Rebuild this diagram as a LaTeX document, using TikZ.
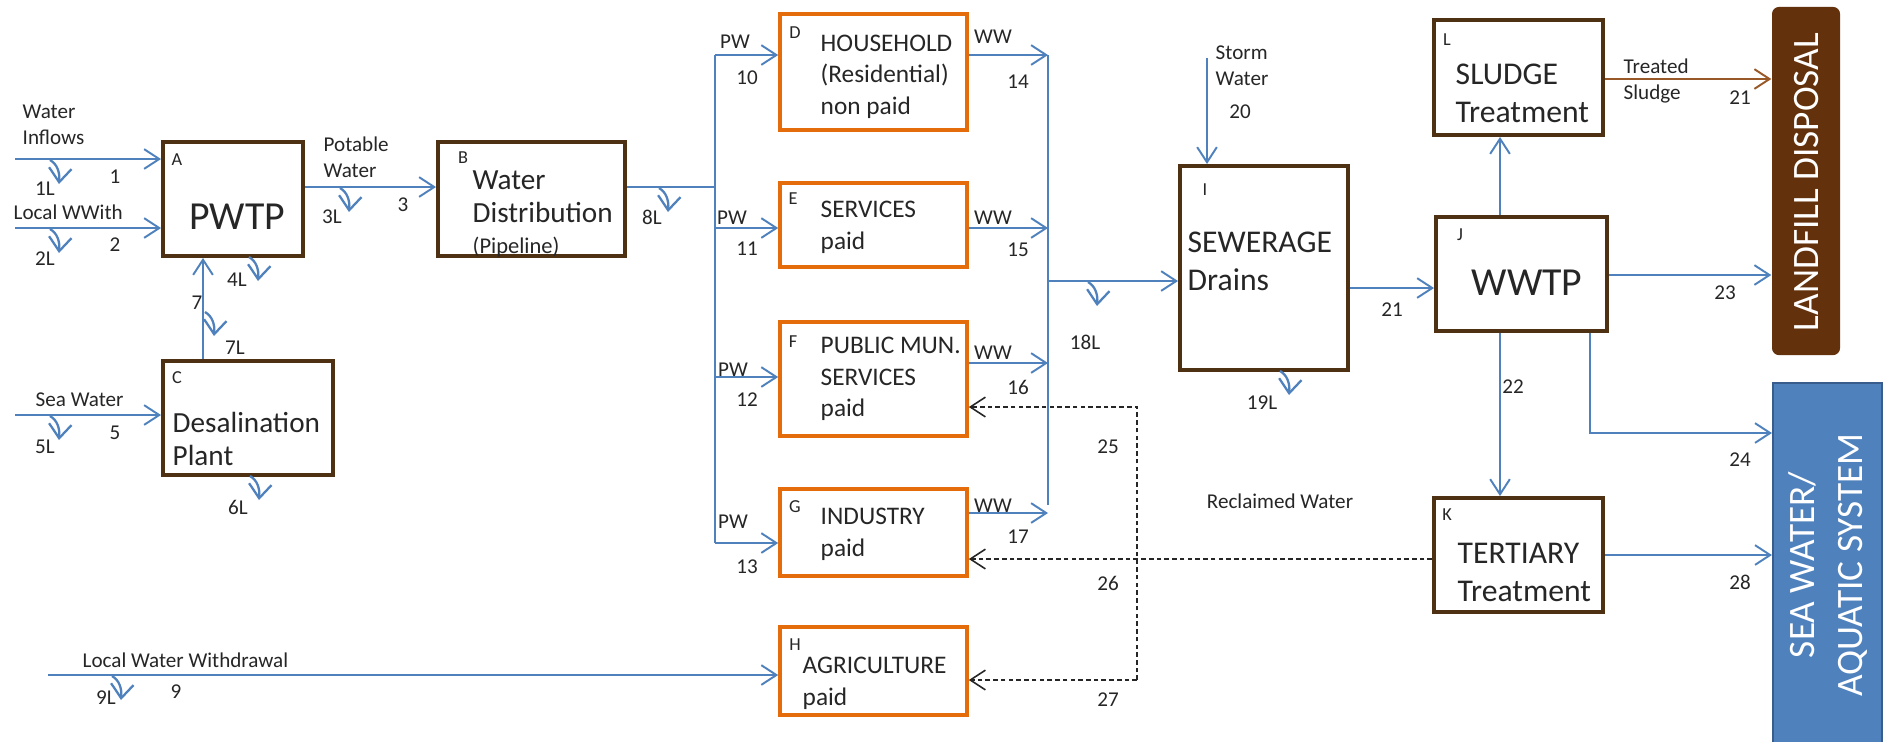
\documentclass[tikz,border=0pt]{standalone}
\usepackage{fontspec}
\setmainfont{Carlito}
\usepackage{xcolor}
\usepackage{tikz}
\usetikzlibrary{arrows.meta}

\definecolor{flowblue}{RGB}{79,129,189}
\definecolor{plantbrown}{RGB}{78,48,18}
\definecolor{userorange}{RGB}{228,108,10}
\definecolor{landfillbrown}{RGB}{99,50,12}
\definecolor{seaedge}{RGB}{56,93,140}
\definecolor{sludgebrown}{RGB}{152,88,40}
\definecolor{inkgray}{RGB}{38,38,38}

\tikzset{
    leak/.pic={\draw[leakline] (0,0) .. controls (7,4) and (10,12) .. (9,24);}
}

\begin{document}
\begin{tikzpicture}[x=0.01cm, y=-0.01cm, text=inkgray,
    plant/.style={draw=plantbrown, line width=1.1pt, fill=white, inner sep=0pt},
    user/.style={draw=userorange, line width=1pt, fill=white, inner sep=0pt},
    flow/.style={draw=flowblue, line width=0.55pt, -{Straight Barb[length=4.3pt,width=5.6pt]}},
    pipe/.style={draw=flowblue, line width=0.55pt},
    leakline/.style={draw=flowblue, line width=0.65pt, -{Straight Barb[length=4pt,width=6.4pt]}},
    reuse/.style={draw=black!85, line width=0.45pt, dash pattern=on 1.3pt off 0.9pt, -{Straight Barb[length=4.3pt,width=5.6pt]}},
    lbl/.style={font=\fontsize{6}{7.4}\selectfont, inner sep=0pt, align=left},
    tag/.style={font=\fontsize{5.2}{5.8}\selectfont, inner sep=0pt},
    usertext/.style={font=\fontsize{7.2}{9}\selectfont, inner sep=0pt, align=left, anchor=west},
    planttext/.style={font=\fontsize{8.3}{9.4}\selectfont, inner sep=0pt, align=left, anchor=west},
    wwtext/.style={font=\fontsize{9}{10.8}\selectfont, inner sep=0pt, align=left, anchor=west},
    bigtext/.style={font=\fontsize{11.3}{13}\selectfont, inner sep=0pt},
    sinktext/.style={font=\fontsize{10.6}{13.4}\selectfont, text=white, inner sep=0pt, align=center, rotate=90}]

    \useasboundingbox (0,0) rectangle (1885,741);

    % Treatment plants
    \node[plant, minimum width=14mm, minimum height=11.4mm] (A) at (233,199) {};
    \node[plant, minimum width=18.7mm, minimum height=11.4mm] (B) at (531.5,199) {};
    \node[plant, minimum width=17mm, minimum height=11.4mm] (C) at (248,418) {};

    % Water users
    \node[user, minimum width=18.7mm, minimum height=11.6mm] (D) at (873.5,72) {};
    \node[user, minimum width=18.7mm, minimum height=8.4mm] (E) at (873.5,225) {};
    \node[user, minimum width=18.7mm, minimum height=11.4mm] (F) at (873.5,379) {};
    \node[user, minimum width=18.7mm, minimum height=8.7mm] (G) at (873.5,532.5) {};
    \node[user, minimum width=18.7mm, minimum height=8.8mm] (H) at (873.5,671) {};

    % Wastewater side
    \node[plant, minimum width=16.8mm, minimum height=20.4mm] (I) at (1264,268) {};
    \node[plant, minimum width=16.9mm, minimum height=11.5mm] (L) at (1518.5,77.5) {};
    \node[plant, minimum width=17.1mm, minimum height=11.4mm] (J) at (1521.5,274) {};
    \node[plant, minimum width=16.9mm, minimum height=11.4mm] (K) at (1518.5,555) {};

    % Final sinks
    \node[fill=landfillbrown, rounded corners=2pt, minimum width=6.8mm, minimum height=34.8mm] (landfill) at (1806,181) {};
    \node[fill=flowblue, draw=seaedge, line width=0.6pt, minimum width=10.9mm, minimum height=36.7mm] (sea) at (1827.5,566.5) {};

    % Box texts
    \node[tag] (tagA) at (177,160) {A};
    \node[bigtext] (nameA) at (237,217) {PWTP};
    \node[tag] (tagB) at (463,158) {B};
    \node[planttext] (nameB) at (472,196.5) {Water\\Distribution};
    \node[lbl, anchor=west, font=\fontsize{6.4}{7}\selectfont] (noteB) at (472,247) {(Pipeline)};
    \node[tag] (tagC) at (177,378) {C};
    \node[planttext] (nameC) at (172,438.5) {Desalination\\Plant};
    \node[tag] (tagD) at (795,33) {D};
    \node[usertext] (nameD) at (820,76.5) {HOUSEHOLD\\(Residential)\\non paid};
    \node[tag] (tagE) at (793,199) {E};
    \node[usertext] (nameE) at (820,227.5) {SERVICES\\paid};
    \node[tag] (tagF) at (793,342) {F};
    \node[usertext] (nameF) at (820,379) {PUBLIC MUN.\\SERVICES\\paid};
    \node[tag] (tagG) at (795,507) {G};
    \node[usertext] (nameG) at (820,534) {INDUSTRY\\paid};
    \node[tag] (tagH) at (795,645) {H};
    \node[usertext] (nameH) at (802,683) {AGRICULTURE\\paid};
    \node[tag] (tagI) at (1205,190) {I};
    \node[wwtext] (nameI) at (1187,261.5) {SEWERAGE\\Drains};
    \node[tag] (tagL) at (1447,40) {L};
    \node[wwtext] (nameL) at (1455,93.5) {SLUDGE\\Treatment};
    \node[tag] (tagJ) at (1460,235) {J};
    \node[bigtext] (nameJ) at (1527,283) {WWTP};
    \node[tag] (tagK) at (1447,515) {K};
    \node[wwtext] (nameK) at (1457,572.5) {TERTIARY\\Treatment};
    \node[sinktext] (nameLandfill) at (1807,182) {LANDFILL DISPOSAL};
    \node[sinktext] (nameSea) at (1828,565) {SEA WATER/\\AQUATIC SYSTEM};

    % Inflows to the plants
    \coordinate (in1) at (15,159);
    \coordinate (in2) at (15,228);
    \coordinate (in5) at (15,415);
    \coordinate (in9) at (48,675);
    \draw[flow] (in1) -- (A.west |- in1);
    \draw[flow] (in2) -- (A.west |- in2);
    \draw[flow] (in5) -- (C.west |- in5);
    \draw[flow] (in9) -- (H.west |- in9);
    \coordinate (col7) at (203,0);
    \draw[flow] (C.north -| col7) -- (A.south -| col7);
    \coordinate (row3) at (0,187);
    \draw[flow] (A.east |- row3) -- (B.west |- row3);

    % Potable water bus
    \coordinate (busL) at (715,187);
    \coordinate (pw10) at (715,55);
    \coordinate (pw11) at (715,228);
    \coordinate (pw12) at (715,377);
    \coordinate (pw13) at (715,543);
    \draw[pipe] (B.east |- busL) -- (busL);
    \draw[pipe] (pw10) -- (pw13);
    \draw[flow] (pw10) -- (D.west |- pw10);
    \draw[flow] (pw11) -- (E.west |- pw11);
    \draw[flow] (pw12) -- (F.west |- pw12);
    \draw[flow] (pw13) -- (G.west |- pw13);

    % Wastewater bus
    \coordinate (ww14) at (1048,55);
    \coordinate (ww15) at (1048,228);
    \coordinate (ww16) at (1048,363);
    \coordinate (ww17) at (1048,513);
    \coordinate (busR) at (1048,281);
    \coordinate (busRend) at (1048,505);
    \draw[pipe] (ww14) -- (busRend);
    \draw[flow] (D.east |- ww14) -- (ww14);
    \draw[flow] (E.east |- ww15) -- (ww15);
    \draw[flow] (F.east |- ww16) -- (ww16);
    \draw[flow] (G.east |- ww17) -- (ww17);
    \draw[flow] (busR) -- (I.west |- busR);
    \coordinate (storm) at (1207,58);
    \draw[flow] (storm) -- (I.north -| storm);

    % Treatment and disposal
    \coordinate (row21) at (0,288);
    \coordinate (col22) at (1500,0);
    \coordinate (rowS) at (0,79);
    \coordinate (row23) at (0,275);
    \coordinate (col24) at (1590,0);
    \coordinate (row24) at (0,433);
    \coordinate (row28) at (0,555);
    \draw[flow] (I.east |- row21) -- (J.west |- row21);
    \draw[flow] (J.north -| col22) -- (L.south -| col22);
    \draw[flow] (J.south -| col22) -- (K.north -| col22);
    \draw[flow, draw=sludgebrown] (L.east |- rowS) -- (landfill.west |- rowS);
    \draw[flow] (J.east |- row23) -- (landfill.west |- row23);
    \draw[flow] (J.south -| col24) |- (sea.west |- row24);
    \draw[flow] (K.east |- row28) -- (sea.west |- row28);

    % Reclaimed water
    \coordinate (col25) at (1137,0);
    \coordinate (row25) at (0,407);
    \coordinate (row26) at (0,559);
    \coordinate (row27) at (0,680);
    \draw[reuse] (K.west |- row26) -- (G.east |- row26);
    \draw[reuse] (col25 |- row27) -- (col25 |- row25) -- (F.east |- row25);
    \draw[reuse] (col25 |- row27) -- (H.east |- row27);

    % Losses
    \pic at (50,160) {leak};
    \pic at (50,229) {leak};
    \pic at (50,416) {leak};
    \pic at (112,676) {leak};
    \pic at (340,188) {leak};
    \pic at (659,188) {leak};
    \pic at (249,257) {leak};
    \pic at (250,476) {leak};
    \pic at (205,312) {leak};
    \pic at (1088,282) {leak};
    \pic at (1280,371) {leak};

    % Flow labels
    \node[lbl, anchor=west] (txtInflows) at (22,125) {Water\\Inflows};
    \node[lbl] (n1) at (115,177) {1};
    \node[lbl] (n1L) at (45,189) {1L};
    \node[lbl, anchor=west] (txtWWith) at (13,212) {Local WWith};
    \node[lbl] (n2) at (115,245) {2};
    \node[lbl] (n2L) at (45,259) {2L};
    \node[lbl, anchor=west] (txtSea) at (35,400) {Sea Water};
    \node[lbl] (n5) at (115,433) {5};
    \node[lbl] (n5L) at (45,447) {5L};
    \node[lbl, anchor=west] (txtPotable) at (323,157) {Potable\\Water};
    \node[lbl] (n3) at (403,205) {3};
    \node[lbl] (n3L) at (332,217) {3L};
    \node[lbl] (n4L) at (237,280) {4L};
    \node[lbl] (n7) at (197,303) {7};
    \node[lbl] (n7L) at (235,348) {7L};
    \node[lbl] (n6L) at (238,507) {6L};
    \node[lbl] (n8L) at (652,217) {8L};
    \node[lbl, anchor=west] (txtLocal) at (82,660) {Local Water Withdrawal};
    \node[lbl] (n9) at (176,692) {9};
    \node[lbl] (n9L) at (106,698) {9L};
    \node[lbl] (pwD) at (735,42) {PW};
    \node[lbl] (n10) at (747,78) {10};
    \node[lbl] (pwE) at (732,218) {PW};
    \node[lbl] (n11) at (747,249) {11};
    \node[lbl] (pwF) at (733,370) {PW};
    \node[lbl] (n12) at (747,400) {12};
    \node[lbl] (pwG) at (733,522) {PW};
    \node[lbl] (n13) at (747,567) {13};
    \node[lbl] (wwD) at (993,37) {WW};
    \node[lbl] (n14) at (1018,82) {14};
    \node[lbl] (wwE) at (993,218) {WW};
    \node[lbl] (n15) at (1018,250) {15};
    \node[lbl] (wwF) at (993,353) {WW};
    \node[lbl] (n16) at (1018,387) {16};
    \node[lbl] (wwG) at (993,506) {WW};
    \node[lbl] (n17) at (1018,537) {17};
    \node[lbl] (n18L) at (1085,342) {18L};
    \node[lbl] (n19L) at (1262,403) {19L};
    \node[lbl, anchor=west] (txtStorm) at (1215,66) {Storm\\Water};
    \node[lbl] (n20) at (1240,112) {20};
    \node[lbl] (n21) at (1392,310) {21};
    \node[lbl, anchor=west] (txtSludge) at (1623,81) {Treated\\Sludge};
    \node[lbl] (n21s) at (1740,98) {21};
    \node[lbl] (n22) at (1513,387) {22};
    \node[lbl] (n23) at (1725,293) {23};
    \node[lbl] (n24) at (1740,460) {24};
    \node[lbl] (n28) at (1740,582) {28};
    \node[lbl] (txtReclaimed) at (1280,501) {Reclaimed Water};
    \node[lbl] (n25) at (1108,447) {25};
    \node[lbl] (n26) at (1108,583) {26};
    \node[lbl] (n27) at (1108,700) {27};
\end{tikzpicture}
\end{document}
